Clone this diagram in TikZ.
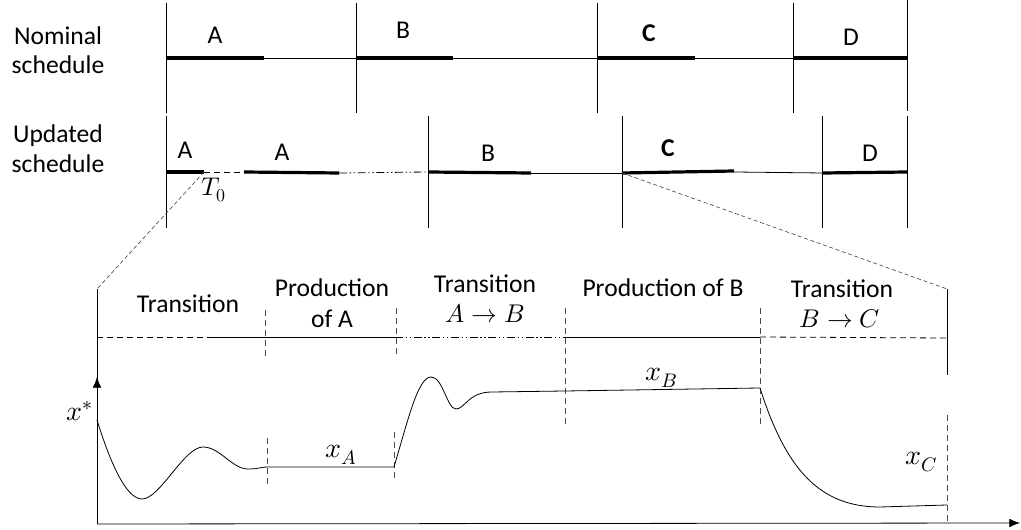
\documentclass[tikz,border=0pt]{standalone}
\usepackage{fontspec}
\setmainfont{Carlito}
\usepackage{unicode-math}
\setmathfont{Latin Modern Math}
\usetikzlibrary{arrows.meta}

\begin{document}
\begin{tikzpicture}[x=0.75pt, y=-0.75pt,
		rule/.style={line width=0.6pt},
		bar/.style={line width=2.4pt},
		gap/.style={line width=0.6pt, dash pattern=on 4.5pt off 3pt},
		ddot/.style={line width=0.6pt, dash pattern=on 6pt off 2pt on 1pt off 2pt on 1pt off 2pt},
		divider/.style={line width=0.5pt, gray!60!black, dash pattern=on 4.5pt off 3pt},
		zoomline/.style={line width=0.5pt, gray!60!black, dash pattern=on 3pt off 2pt},
		lbl/.style={font=\fontsize{19.2}{24}\selectfont, inner sep=0pt},
		mlbl/.style={font=\fontsize{21}{24}\selectfont, inner sep=0pt}
	]
	\useasboundingbox (0,0) rectangle (1021,530);

	% row titles
	\node[lbl, anchor=base] (nomA) at (58,45) {Nominal};
	\node[lbl, anchor=base] (nomB) at (58,74) {schedule};
	\node[lbl, anchor=base] (updA) at (58,143) {Updated};
	\node[lbl, anchor=base] (updB) at (58,173) {schedule};

	% nominal schedule
	\foreach \x in {166,356,597,793} \draw[rule] (\x,3) -- (\x,113);
	\draw[rule] (907,0) -- (907,111);
	\draw[rule] (166,58) -- (907,58);
	\foreach \a/\b in {166/264,356/453,597/695,793/907} \draw[bar] (\a,58) -- (\b,58);
	\node[lbl] (nA) at (215,35) {A};
	\node[lbl] (nB) at (403,30) {B};
	\node[lbl, font=\fontsize{19.2}{24}\selectfont\bfseries] (nC) at (649,33) {C};
	\node[lbl] (nD) at (851,37) {D};

	% updated schedule
	\foreach \x in {166,428,622,822,907} \draw[rule] (\x,116) -- (\x,228);
	\coordinate (T0) at (204,172);
	\coordinate (Cstart) at (622,173);
	\draw[bar] (166,172) -- (T0);
	\draw[gap] (T0) -- (244,172);
	\draw[bar] (244,172) -- (339,173);
	\draw[ddot] (339,173) -- (428,172);
	\draw[bar] (428,172) -- (531,173);
	\draw[rule] (531,173) -- (Cstart);
	\draw[bar] (Cstart) -- (734,171);
	\draw[rule] (734,172) -- (823,173);
	\draw[bar] (823,173) -- (907,172);
	\node[lbl] (uA1) at (185,150) {A};
	\node[lbl] (uA2) at (282,152) {A};
	\node[lbl] (uB) at (488,153) {B};
	\node[lbl, font=\fontsize{19.2}{24}\selectfont\bfseries] (uC) at (668,148) {C};
	\node[lbl] (uD) at (870,153) {D};
	\node[lbl] (t0) at (214,190) {$T_0$};

	% zoom onto the bottom plot
	\coordinate (frameL) at (97,289);
	\coordinate (frameR) at (947,289);
	\draw[zoomline] (T0) -- (frameL);
	\draw[zoomline] (Cstart) -- (frameR);

	% frame and axes
	\coordinate (O) at (97,524);
	\draw[rule] (frameL) -- (97,380);
	\draw[rule, -{Latex[length=8pt, width=6.5pt]}] (O) -- (97,377);
	\draw[rule, -{Latex[length=8pt, width=6.5pt]}] (O) -- (1020,523);
	\draw[rule] (frameR) -- (947,375);
	\draw[divider] (947,415) -- (947,524);
	\node[mlbl] (xs) at (80,411) {$x^*$};

	% phase line
	\draw[gap] (97,337) -- (207,337);
	\draw[rule] (207,337) -- (395,337);
	\draw[ddot] (395,337) -- (565,337);
	\draw[rule] (565,337) -- (760,337);
	\draw[gap] (760,337) -- (947,338);

	% phase dividers
	\draw[divider] (265,310) -- (265,360);
	\draw[divider] (267,438) -- (267,488);
	\draw[divider] (396,308) -- (396,358);
	\draw[divider] (394,432) -- (394,482);
	\draw[divider] (565,308) -- (565,425);
	\draw[divider] (760,308) -- (760,425);

	% phase labels
	\node[lbl, anchor=base] (p1) at (188,313) {Transition};
	\node[lbl, anchor=base] (p2a) at (332,297) {Production};
	\node[lbl, anchor=base] (p2b) at (332,328) {of A};
	\node[lbl, anchor=base] (p3a) at (485,293) {Transition};
	\node[lbl, anchor=base] (p3b) at (485,323) {$A\rightarrow B$};
	\node[lbl, anchor=base] (p4) at (663,297) {Production of B};
	\node[lbl, anchor=base] (p5a) at (842,298) {Transition};
	\node[lbl, anchor=base] (p5b) at (840,328) {$B\rightarrow C$};

	% trajectory
	\draw[rule] (97,420) .. controls (110,462) and (126,499) .. (142,499)
		.. controls (160,499) and (184,447) .. (203,447)
		.. controls (220,447) and (232,469) .. (248,469)
		.. controls (258,469) and (262,467) .. (267,467) -- (394,467)
		.. controls (408,420) and (418,377) .. (431,377)
		.. controls (443,377) and (447,409) .. (456,409)
		.. controls (465,409) and (468,392) .. (492,392) -- (565,391) -- (760,388)
		.. controls (786,470) and (820,507) .. (880,507) -- (947,505);
	\node[mlbl] (xA) at (341,455) {$x_A$};
	\node[mlbl] (xB) at (662,378) {$x_B$};
	\node[mlbl] (xC) at (922,462) {$x_C$};

\end{tikzpicture}
\end{document}
